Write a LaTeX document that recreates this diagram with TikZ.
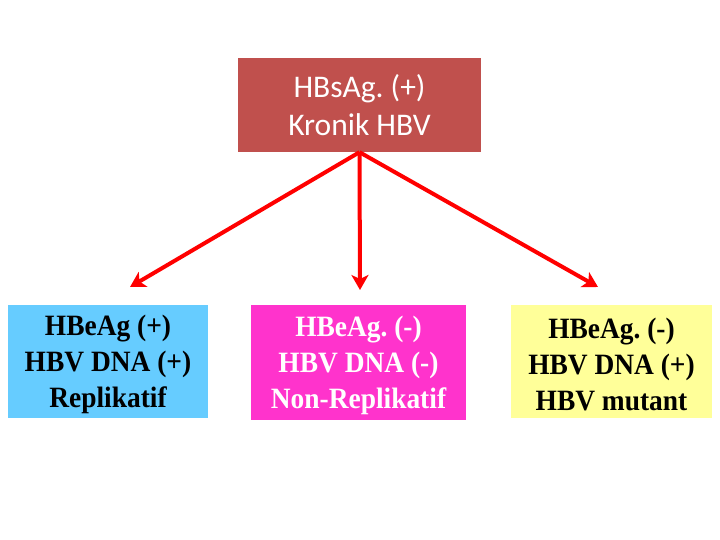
\documentclass[tikz,border=0pt]{standalone}
\usepackage{fontspec}
\setmainfont{Liberation Serif}
\newfontfamily\calib{Carlito}
\newfontfamily\tallserif[FakeStretch=0.93]{Liberation Serif Bold}
\usetikzlibrary{arrows.meta}
\definecolor{hbsred}{HTML}{C0504D}
\definecolor{hbblue}{HTML}{66CCFF}
\definecolor{hbpink}{HTML}{FF33CC}
\definecolor{hbyellow}{HTML}{FFFF99}
\newcommand{\topstrut}{\rule{0pt}{27pt}}
\frenchspacing
\begin{document}
\begin{tikzpicture}[
  x=1pt, y=-1pt,
  box/.style = {shape=rectangle, inner sep=0pt, align=center},
  topbox/.style = {box, fill=hbsred, text=white, minimum width=243pt, minimum height=94pt,
    font=\calib\fontsize{31.5}{38}\selectfont},
  lowbox/.style = {box, minimum height=113pt, font=\tallserif\fontsize{29.5}{36}\selectfont},
  link/.style = {draw=red, line width=4pt, -{Stealth[length=15pt,width=17pt,inset=4pt]}}
]
  \useasboundingbox (0,0) rectangle (720,540);
  \node[topbox] (kronik) at (359.5,105) {HBsAg. (+)\\Kronik HBV};
  \node[lowbox, fill=hbblue, minimum width=200pt] (repl) at (108,361.5)
    {\topstrut HBeAg (+)\\HBV DNA (+)\\Replikatif};
  \node[lowbox, fill=hbpink, text=white, minimum width=215pt, minimum height=115pt] (nonrepl) at (358.5,362.5)
    {\topstrut HBeAg. (-)\\HBV DNA (-)\\Non-Replikatif};
  \node[lowbox, fill=hbyellow, minimum width=201pt] (mutant) at (611.5,361.5)
    {\topstrut HBeAg. (-)\\HBV DNA (+)\\HBV mutant};
  \coordinate (tipL) at (130,287);
  \coordinate (tipM) at (360,290);
  \coordinate (tipR) at (598,287);
  \draw[link] (kronik.south) -- (tipL);
  \draw[link] (kronik.south) -- (tipM);
  \draw[link] (kronik.south) -- (tipR);
\end{tikzpicture}
\end{document}
